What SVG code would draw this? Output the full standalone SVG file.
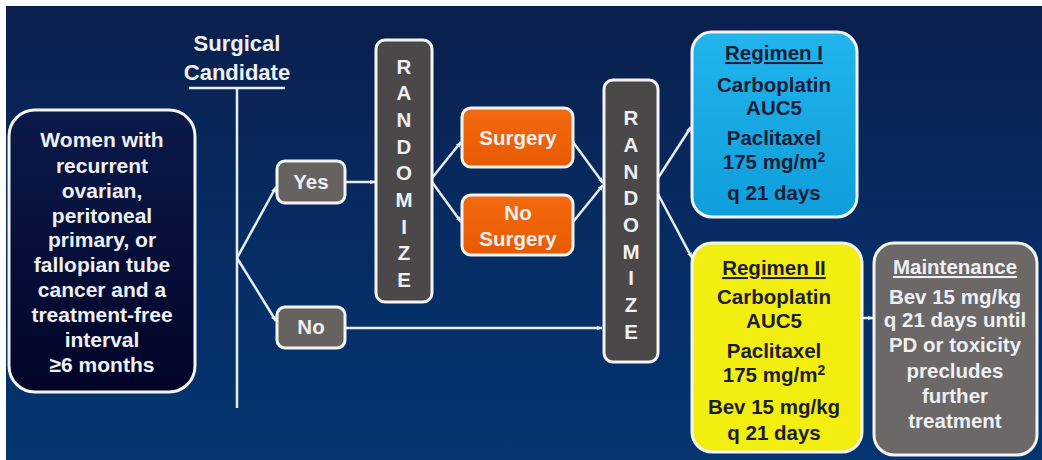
<svg xmlns="http://www.w3.org/2000/svg" width="1042" height="460" viewBox="0 0 1042 460">
<defs>
<linearGradient id="bg" x1="0" y1="0" x2="0" y2="1">
<stop offset="0" stop-color="#0b1f4c"/>
<stop offset="0.5" stop-color="#062c63"/>
<stop offset="1" stop-color="#043570"/>
</linearGradient>
<linearGradient id="dark" x1="0" y1="0" x2="0" y2="1">
<stop offset="0" stop-color="#0b1a4a"/>
<stop offset="1" stop-color="#020428"/>
</linearGradient>
<linearGradient id="blue" x1="0" y1="0" x2="0" y2="1">
<stop offset="0" stop-color="#22b4ec"/>
<stop offset="1" stop-color="#0e9edc"/>
</linearGradient>
<linearGradient id="orange" x1="0" y1="0" x2="0" y2="1">
<stop offset="0" stop-color="#f46a10"/>
<stop offset="1" stop-color="#e85a00"/>
</linearGradient>
<marker id="ah" viewBox="0 0 10 10" refX="9" refY="5" markerWidth="6" markerHeight="6" markerUnits="userSpaceOnUse" orient="auto">
<path d="M0,1 L10,5 L0,9 z" fill="#e8eef6"/>
</marker>
<style>
.t{font-family:"Liberation Sans",Arial,sans-serif;font-weight:bold;font-size:20.5px;text-anchor:middle}
.big{font-size:22px}
.lft{font-size:21px}
.w{fill:#eef0f4}
.d{fill:#1c1c36}
.box{stroke:#f4f4f4;stroke-width:3}
.gray{fill:#666260}
.ln{stroke:#e8eef6;stroke-width:2.5;fill:none}
.u{text-decoration:underline}
</style>
</defs>
<rect x="0" y="0" width="1042" height="460" fill="#ffffff"/>
<rect x="6" y="6" width="1036" height="454" fill="url(#bg)"/>

<g id="connectors">
<line class="ln" x1="189" y1="88" x2="285" y2="88"/>
<line class="ln" x1="237" y1="88" x2="237" y2="408"/>
<line class="ln" x1="237" y1="258" x2="276" y2="187" marker-end="url(#ah)"/>
<line class="ln" x1="237" y1="258" x2="276" y2="321" marker-end="url(#ah)"/>
<line class="ln" x1="345" y1="182" x2="375" y2="182" marker-end="url(#ah)"/>
<line class="ln" x1="432" y1="178" x2="461" y2="142" marker-end="url(#ah)"/>
<line class="ln" x1="432" y1="182" x2="461" y2="222" marker-end="url(#ah)"/>
<line class="ln" x1="573" y1="142" x2="603" y2="183" marker-end="url(#ah)"/>
<line class="ln" x1="573" y1="222" x2="603" y2="185" marker-end="url(#ah)"/>
<line class="ln" x1="345" y1="328" x2="602" y2="328" marker-end="url(#ah)"/>
<line class="ln" x1="658" y1="178" x2="691" y2="127" marker-end="url(#ah)"/>
<line class="ln" x1="658" y1="194" x2="692" y2="258" marker-end="url(#ah)"/>
<line class="ln" x1="862" y1="318" x2="873" y2="318" marker-end="url(#ah)"/>
</g>

<g id="surgical-candidate">
<text class="t w big" x="237" y="51">Surgical</text>
<text class="t w big" x="237" y="80">Candidate</text>
</g>

<g id="population">
<rect class="box" x="9" y="110" width="186" height="282" rx="26" fill="url(#dark)"/>
<text class="t w lft" x="102" y="147">Women with</text>
<text class="t w lft" x="102" y="173">recurrent</text>
<text class="t w lft" x="102" y="198">ovarian,</text>
<text class="t w lft" x="102" y="223">peritoneal</text>
<text class="t w lft" x="102" y="247">primary, or</text>
<text class="t w lft" x="102" y="272">fallopian tube</text>
<text class="t w lft" x="102" y="297">cancer and a</text>
<text class="t w lft" x="102" y="322">treatment-free</text>
<text class="t w lft" x="102" y="347">interval</text>
<text class="t w lft" x="102" y="372">≥6 months</text>
</g>

<g id="yes">
<rect class="box gray" x="277" y="161" width="68" height="42" rx="8"/>
<text class="t w" x="311" y="189">Yes</text>
</g>

<g id="no">
<rect class="box gray" x="277" y="307" width="68" height="41" rx="8"/>
<text class="t w" x="311" y="334">No</text>
</g>

<g id="randomize-1">
<rect class="box" x="376" y="40" width="56" height="262" rx="9" fill="#4a4848"/>
<text class="t w" x="404" y="74">R</text>
<text class="t w" x="404" y="100">A</text>
<text class="t w" x="404" y="127">N</text>
<text class="t w" x="404" y="154">D</text>
<text class="t w" x="404" y="180">O</text>
<text class="t w" x="404" y="207">M</text>
<text class="t w" x="404" y="234">I</text>
<text class="t w" x="404" y="260">Z</text>
<text class="t w" x="404" y="287">E</text>
</g>

<g id="surgery">
<rect class="box" x="462" y="108" width="111" height="59" rx="9" fill="url(#orange)"/>
<text class="t w" x="518" y="145">Surgery</text>
</g>

<g id="no-surgery">
<rect class="box" x="462" y="195" width="111" height="60" rx="9" fill="url(#orange)"/>
<text class="t w" x="518" y="220">No</text>
<text class="t w" x="518" y="246">Surgery</text>
</g>

<g id="randomize-2">
<rect class="box" x="604" y="80" width="54" height="282" rx="9" fill="#4a4848"/>
<text class="t w" x="631" y="125">R</text>
<text class="t w" x="631" y="152">A</text>
<text class="t w" x="631" y="179">N</text>
<text class="t w" x="631" y="205">D</text>
<text class="t w" x="631" y="232">O</text>
<text class="t w" x="631" y="259">M</text>
<text class="t w" x="631" y="285">I</text>
<text class="t w" x="631" y="312">Z</text>
<text class="t w" x="631" y="339">E</text>
</g>

<g id="regimen-1">
<rect class="box" x="692" y="32" width="165" height="185" rx="20" fill="url(#blue)"/>
<text class="t d u" x="774" y="60">Regimen I</text>
<text class="t d" x="774" y="92">Carboplatin</text>
<text class="t d" x="774" y="115">AUC5</text>
<text class="t d" x="774" y="145">Paclitaxel</text>
<text class="t d" x="774" y="169">175 mg/m<tspan dy="-7" font-size="14">2</tspan></text>
<text class="t d" x="774" y="200">q 21 days</text>
</g>

<g id="regimen-2">
<rect class="box" x="692" y="243" width="170" height="209" rx="20" fill="#f2ee10"/>
<text class="t d u" x="774" y="275">Regimen II</text>
<text class="t d" x="774" y="304">Carboplatin</text>
<text class="t d" x="774" y="328">AUC5</text>
<text class="t d" x="774" y="358">Paclitaxel</text>
<text class="t d" x="774" y="382">175 mg/m<tspan dy="-7" font-size="14">2</tspan></text>
<text class="t d" x="774" y="414">Bev 15 mg/kg</text>
<text class="t d" x="774" y="440">q 21 days</text>
</g>

<g id="maintenance">
<rect class="box" x="874" y="243" width="163" height="212" rx="20" fill="#6b6867"/>
<text class="t w u" x="955" y="274">Maintenance</text>
<text class="t w" x="955" y="304">Bev 15 mg/kg</text>
<text class="t w" x="955" y="327">q 21 days until</text>
<text class="t w" x="955" y="352">PD or toxicity</text>
<text class="t w" x="955" y="378">precludes</text>
<text class="t w" x="955" y="403">further</text>
<text class="t w" x="955" y="428">treatment</text>
</g>
</svg>
